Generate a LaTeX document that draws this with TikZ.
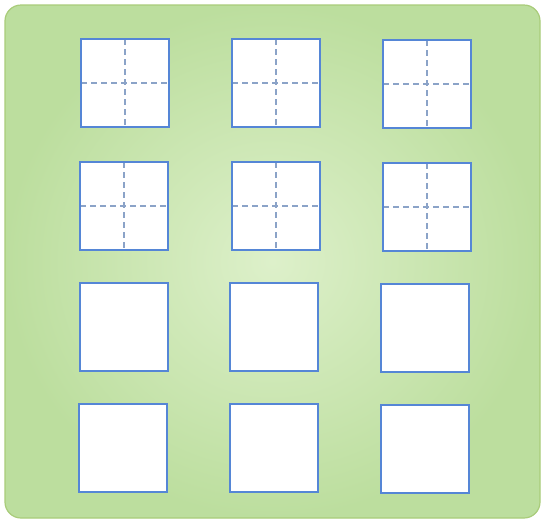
\documentclass[tikz,border=0pt]{standalone}
\usetikzlibrary{shadings}
\definecolor{bgedge}{HTML}{BCDE9E}
\definecolor{bgmid}{HTML}{DDF0CA}
\definecolor{bgline}{HTML}{A9CC7A}
\definecolor{sqblue}{HTML}{5586D6}
\definecolor{dashblue}{HTML}{8BA3C8}
\tikzset{
  sq/.style={draw=sqblue, line width=2.5pt, fill=white, minimum width=88pt, minimum height=88pt, inner sep=0pt, outer sep=0pt, anchor=north west},
  cross/.style={draw=dashblue, line width=1.3pt, dash pattern=on 6pt off 4pt}
}
\begin{document}
\begin{tikzpicture}[x=1pt,y=-1pt]
\useasboundingbox (0,0) rectangle (543,523);
\fill[white] (0,0) rectangle (543,523);
\shade[inner color=bgmid, outer color=bgedge, rounded corners=16pt] (5,5) rectangle (540,518);
\draw[bgline, line width=1.2pt, rounded corners=16pt] (5,5) rectangle (540,518);
% row 1
\node[sq] (a1) at (81,39) {};
\node[sq] (a2) at (232,39) {};
\node[sq] (a3) at (383,40) {};
% row 2
\node[sq] (b1) at (80,162) {};
\node[sq] (b2) at (232,162) {};
\node[sq] (b3) at (383,163) {};
% row 3
\node[sq] (c1) at (80,283) {};
\node[sq] (c2) at (230,283) {};
\node[sq] (c3) at (381,284) {};
% row 4
\node[sq] (d1) at (79,404) {};
\node[sq] (d2) at (230,404) {};
\node[sq] (d3) at (381,405) {};
\foreach \n in {a1,a2,a3,b1,b2,b3}{
  \draw[cross] (\n.north) -- (\n.south);
  \draw[cross] (\n.west) -- (\n.east);
  \draw[sqblue, line width=2.5pt] (\n.north west) rectangle (\n.south east);
}
\end{tikzpicture}
\end{document}
